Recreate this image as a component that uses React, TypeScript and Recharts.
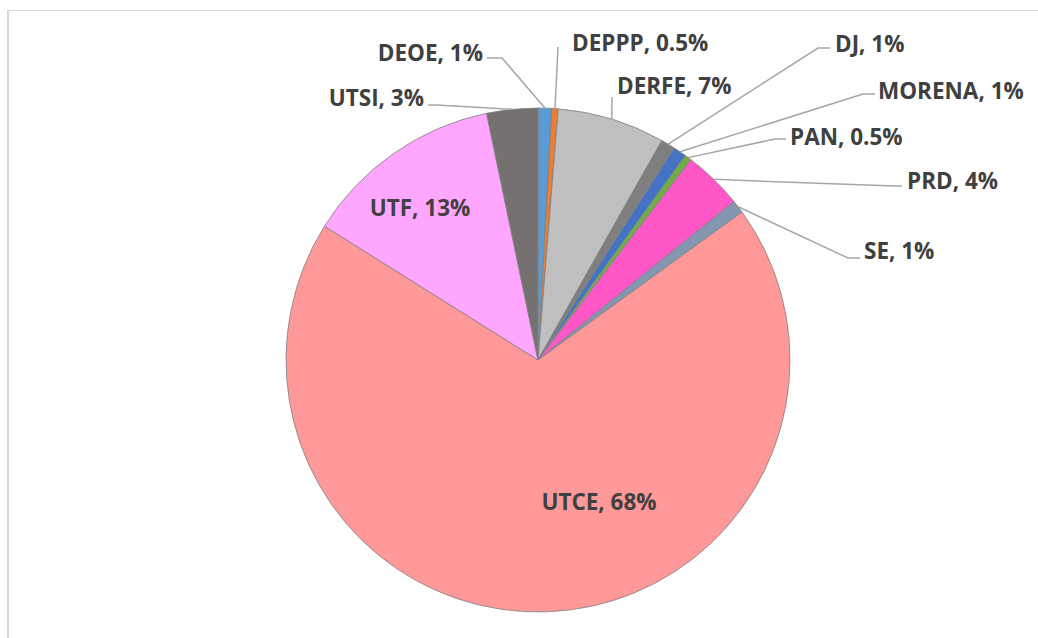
import { PieChart, Pie, Cell } from "recharts";

// shares (clockwise from 12 o'clock)
const units = ["DEOE", "DEPPP", "DERFE", "DJ", "MORENA", "PAN", "PRD", "SE", "UTCE", "UTF", "UTSI"];
const shares = [0.87, 0.41, 6.9, 0.92, 0.84, 0.44, 3.8, 0.83, 68.9, 12.82, 3.27];
const shareLabels = ["1%", "0.5%", "7%", "1%", "1%", "0.5%", "4%", "1%", "68%", "13%", "3%"];
const colors = [
  "#5B9BD5", "#ED7D31", "#BFBFBF", "#7F7F7F", "#4472C4", "#70AD47",
  "#FF57C8", "#8497B0", "#FF9999", "#FFA7FF", "#767171",
];

// where each data label sits (best-fit placement in the original)
// x/y = text anchor, anchor = text-anchor, ex/ey = leader elbow (null = label inside slice)
const LABEL_POS = [
  { x: 483, y: 52, anchor: "end", ex: 502, ey: 58, lx: 487 },
  { x: 572, y: 42, anchor: "start", ex: 558, ey: 47, lx: 558 },
  { x: 617, y: 85, anchor: "start", ex: 612, ey: 97, lx: 612 },
  { x: 835, y: 43, anchor: "start", ex: 818, ey: 48, lx: 830 },
  { x: 878, y: 90, anchor: "start", ex: 863, ey: 94, lx: 875 },
  { x: 790, y: 136, anchor: "start", ex: 775, ey: 139, lx: 786 },
  { x: 907, y: 180, anchor: "start", ex: 895, ey: 186, lx: 902 },
  { x: 864, y: 250, anchor: "start", ex: 848, ey: 258, lx: 860 },
  { x: 599, y: 501, anchor: "middle", ex: null, ey: null, lx: null },
  { x: 420, y: 207, anchor: "middle", ex: null, ey: null, lx: null },
  { x: 424, y: 97, anchor: "end", ex: 437, ey: 105, lx: 428 },
];

const data = units.map((u, i) => ({ name: u, value: shares[i], label: shareLabels[i] }));

const RAD = Math.PI / 180;
const TEXT = "#404040";
const LEADER = "#A6A6A6";

// eslint-disable-next-line @typescript-eslint/no-explicit-any
function renderLabel(props: any) {
  const { cx, cy, midAngle, outerRadius, index } = props;
  const pos = LABEL_POS[index];
  const d = data[index];
  const sx = cx + outerRadius * Math.cos(-midAngle * RAD);
  const sy = cy + outerRadius * Math.sin(-midAngle * RAD);
  return (
    <g key={`lbl-${index}`}>
      {pos.ex !== null && (
        <polyline
          points={`${sx},${sy} ${pos.ex},${pos.ey} ${pos.lx},${pos.ey}`}
          fill="none"
          stroke={LEADER}
          strokeWidth={1.5}
        />
      )}
      <text
        x={pos.x}
        y={pos.y}
        textAnchor={pos.anchor}
        dominantBaseline="central"
        fill={TEXT}
        fontSize={22.5}
        fontWeight={700}
        fontFamily="'Open Sans', sans-serif"
      >
        {`${d.name}, ${d.label}`}
      </text>
    </g>
  );
}

export default function App() {
  return (
    <div
      style={{
        position: "absolute",
        left: 0,
        top: 0,
        width: 1038,
        height: 638,
        overflow: "hidden",
        background: "#fff",
      }}
    >
      <div
        style={{
          position: "absolute",
          left: 7,
          top: 10,
          width: 1100,
          height: 700,
          borderLeft: "2px solid #D9D9D9",
          borderTop: "1px solid #D9D9D9",
        }}
      />
      <div style={{ position: "absolute", left: 0, top: 0 }}>
        <PieChart width={1038} height={638} margin={{ top: 0, right: 0, bottom: 0, left: 0 }}>
          <Pie
            data={data}
            dataKey="value"
            nameKey="name"
            cx={538}
            cy={360}
            outerRadius={252}
            startAngle={90}
            endAngle={-270}
            stroke="#808080"
            strokeWidth={0.8}
            label={renderLabel}
            labelLine={false}
            isAnimationActive={false}
          >
            {data.map((d, i) => (
              <Cell key={d.name} fill={colors[i]} />
            ))}
          </Pie>
        </PieChart>
      </div>
    </div>
  );
}
